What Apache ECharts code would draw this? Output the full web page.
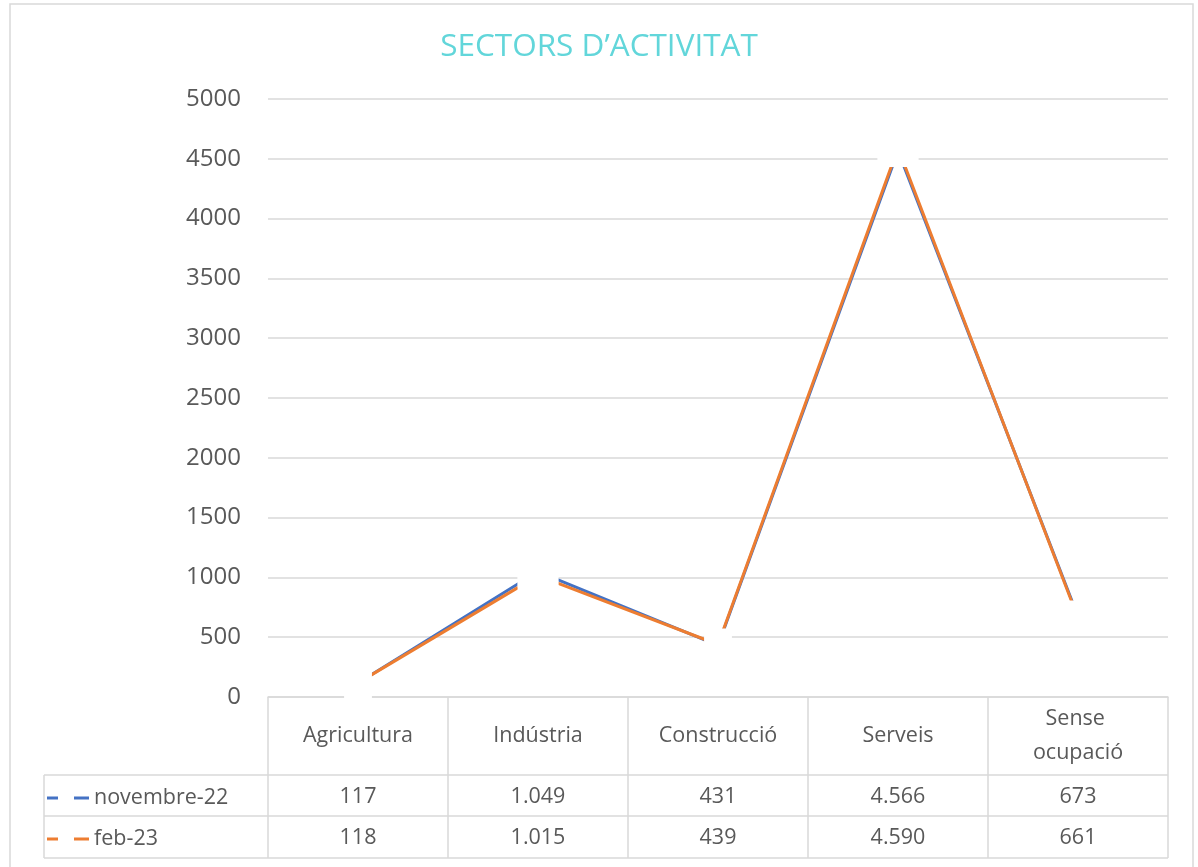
<!DOCTYPE html>
<html lang="ca">
<head>
	<meta charset="UTF-8">
	<title>Sectors d'activitat</title>
	<style>
		html, body { margin: 0; padding: 0; background: #fff; }
		#chart { width: 1198px; height: 867px; }
	</style>
</head>
<body>
	<div id="chart"></div>
	<script src="https://cdn.jsdelivr.net/npm/echarts@6/dist/echarts.min.js"></script>
	<script>
		// dades
		var categories = ['Agricultura', 'Indústria', 'Construcció', 'Serveis', 'Sense ocupació'];
		var nov22 = [117, 1049, 431, 4566, 673];
		var feb23 = [118, 1015, 439, 4590, 661];
		var seriesNames = ['novembre-22', 'feb-23'];
		var colors = ['#4472C4', '#ED7D31'];

		var grey = '#595959';
		var border = '#d9d9d9';
		var font = 'Open Sans';
		var tableSize = 21.5;

		function fmt(v) {
			return String(v).replace(/\B(?=(\d{3})+(?!\d))/g, '.');
		}

		var chart = echarts.init(document.getElementById('chart'));

		function lineSeries(name, data, color) {
			return {
				name: name,
				type: 'line',
				data: data,
				symbol: 'circle',
				symbolSize: 1,
				itemStyle: { color: '#fff' },
				lineStyle: { color: color, width: 3 },
				label: {
					show: true,
					position: 'inside',
					color: '#fff',
					fontSize: 16,
					fontFamily: font,
					backgroundColor: '#fff',
					padding: [8, 0],
					formatter: function (p) { return fmt(p.value); }
				},
				silent: true
			};
		}

		function rowAxis(values, margin) {
			return {
				type: 'category',
				data: categories,
				position: 'bottom',
				axisLine: { show: false },
				axisTick: { show: false },
				axisLabel: {
					margin: margin,
					verticalAlign: 'middle',
					color: grey,
					fontSize: tableSize,
					fontFamily: font,
					formatter: function (v, i) { return fmt(values[i]); }
				}
			};
		}

		function legendRow(name, color, top) {
			return {
				data: [name],
				left: 42,
				top: top,
				icon: 'path://M0,0H11V3H0Z M27,0H42V3H27Z',
				itemWidth: 42,
				itemHeight: 3,
				itemStyle: { color: color },
				selectedMode: false,
				textStyle: { color: grey, fontSize: tableSize, fontFamily: font, lineHeight: 24 }
			};
		}

		var option = {
			backgroundColor: '#fff',
			animation: false,
			title: {
				text: 'SECTORS D’ACTIVITAT',
				left: 'center',
				top: 26,
				textStyle: { color: '#62D6DA', fontSize: 31.5, fontWeight: 'normal', fontFamily: font }
			},
			legend: [
				legendRow(seriesNames[0], colors[0], 781),
				legendRow(seriesNames[1], colors[1], 822)
			],
			grid: { left: 268, right: 30, top: 99, bottom: 170, containLabel: false },
			xAxis: [
				{
					type: 'category',
					data: categories,
					position: 'bottom',
					axisLine: { show: true, lineStyle: { color: border, width: 1.5 } },
					axisTick: { show: true, length: 161, lineStyle: { color: border, width: 1.5 } },
					axisLabel: {
						margin: 39,
						verticalAlign: 'middle',
						color: grey,
						fontSize: tableSize,
						fontFamily: font,
						lineHeight: 34,
						width: 128,
						overflow: 'break',
						interval: 0
					}
				},
				rowAxis(nov22, 100),
				rowAxis(feb23, 141)
			],
			yAxis: {
				type: 'value',
				min: 0,
				max: 5000,
				interval: 500,
				axisLine: { show: false },
				axisTick: { show: false },
				splitLine: { lineStyle: { color: border, width: 1.5 } },
				axisLabel: {
					margin: 27,
					color: grey,
					fontSize: 24,
					fontFamily: font,
					formatter: function (v) { return String(v); }
				}
			},
			graphic: [
				{ type: 'rect', shape: { x: 10, y: 4, width: 1183, height: 870 }, style: { fill: 'none', stroke: border, lineWidth: 1.5 }, silent: true },
				{ type: 'line', shape: { x1: 44, y1: 775, x2: 1168, y2: 775 }, style: { stroke: border, lineWidth: 1.5 }, silent: true },
				{ type: 'line', shape: { x1: 44, y1: 816, x2: 1168, y2: 816 }, style: { stroke: border, lineWidth: 1.5 }, silent: true },
				{ type: 'line', shape: { x1: 44, y1: 858, x2: 1168, y2: 858 }, style: { stroke: border, lineWidth: 1.5 }, silent: true },
				{ type: 'line', shape: { x1: 44, y1: 775, x2: 44, y2: 858 }, style: { stroke: border, lineWidth: 1.5 }, silent: true }
			],
			series: [
				lineSeries(seriesNames[0], nov22, colors[0]),
				lineSeries(seriesNames[1], feb23, colors[1])
			]
		};

		chart.setOption(option);
	</script>
</body>
</html>
